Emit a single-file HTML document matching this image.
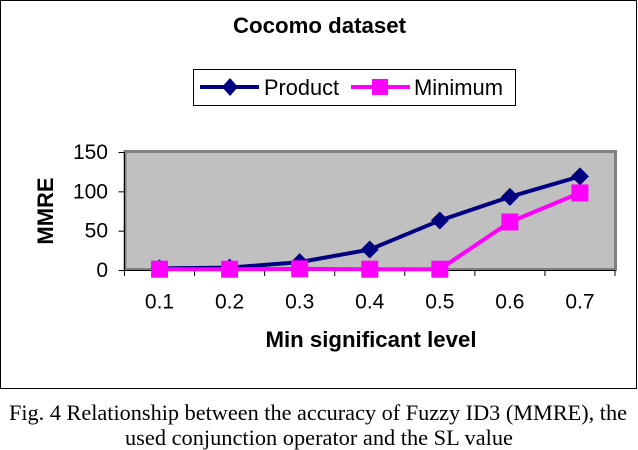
<!DOCTYPE html>
<html>
<head>
<meta charset="utf-8">
<style>
html,body{margin:0;padding:0;background:#fff;}
body{width:638px;height:450px;overflow:hidden;}
svg{display:block;}
text{font-family:"Liberation Sans",sans-serif;fill:#000;}
.cap{font-family:"Liberation Serif",serif;font-size:22px;}
</style>
</head>
<body>
<svg id="chart" width="638" height="450" viewBox="0 0 638 450" xmlns="http://www.w3.org/2000/svg">
  <rect x="0.5" y="0.5" width="636" height="388" fill="#fff" stroke="#000" stroke-width="1"/>
  <text x="233" y="33" font-size="22" font-weight="bold" textLength="173" lengthAdjust="spacingAndGlyphs">Cocomo dataset</text>

  <g>
    <rect x="193.5" y="69.5" width="322" height="36" fill="#fff" stroke="#000" stroke-width="1"/>
    <g>
      <line x1="200" y1="87" x2="259" y2="87" stroke="#000080" stroke-width="4"/>
      <polygon points="230,78 238,87 230,96 222,87" fill="#000080"/>
      <text x="264" y="95" font-size="22" textLength="75" lengthAdjust="spacingAndGlyphs">Product</text>
    </g>
    <g>
      <line x1="351" y1="87" x2="410" y2="87" stroke="#ff00ff" stroke-width="4"/>
      <rect x="372" y="79" width="16" height="16" fill="#ff00ff"/>
      <text x="414" y="95" font-size="22" textLength="89" lengthAdjust="spacingAndGlyphs">Minimum</text>
    </g>
  </g>

  <rect x="125" y="151.5" width="490.5" height="118" fill="#c0c0c0" stroke="#808080" stroke-width="3"/>
  <g id="axes"></g>
  <g id="series"></g>

  <text x="0" y="0" transform="translate(53,211) rotate(-90)" font-size="22" font-weight="bold" text-anchor="middle">MMRE</text>
  <text x="265.5" y="347" font-size="22" font-weight="bold" textLength="211" lengthAdjust="spacingAndGlyphs">Min significant level</text>

  <text class="cap" x="9" y="420" textLength="618" lengthAdjust="spacingAndGlyphs">Fig. 4 Relationship between the accuracy of Fuzzy ID3 (MMRE), the</text>
  <text class="cap" x="125" y="445" textLength="388" lengthAdjust="spacingAndGlyphs">used conjunction operator and the SL value</text>
</svg>
<script>
const categories = ["0.1", "0.2", "0.3", "0.4", "0.5", "0.6", "0.7"];
const productValues = [2, 3, 10, 26, 63, 93, 119];
const minimumValues = [1, 1, 1.5, 1, 1, 61, 98];
const yTicks = [0, 50, 100, 150];

const NS = "http://www.w3.org/2000/svg";
const plotLeft = 124.5, plotRight = 615, plotTop = 152, plotBottom = 270;
const yMax = 150;
const bandWidth = (plotRight - plotLeft) / categories.length;
function xAt(i) { return plotLeft + bandWidth * (i + 0.5); }
function xEdge(i) { return plotLeft + bandWidth * i; }
function yAt(v) { return plotBottom - (v / yMax) * (plotBottom - plotTop); }
function make(tag, attrs, parent) {
  const el = document.createElementNS(NS, tag);
  for (const k in attrs) el.setAttribute(k, attrs[k]);
  parent.appendChild(el);
  return el;
}
const axes = document.getElementById("axes");
const series = document.getElementById("series");

const yAxisLine = make("line", {x1: plotLeft, y1: plotTop, x2: plotLeft, y2: plotBottom + 1, stroke: "#000"}, axes);


const xAxisLine = make("line", {x1: plotLeft - 6, y1: plotBottom + 0.5, x2: plotRight, y2: plotBottom + 0.5, stroke: "#000"}, axes);



yTicks.forEach(function (t) {
  const y = yAt(t);
  const tick = make("line", {x1: plotLeft - 6, y1: y + 0.5, x2: plotLeft, y2: y + 0.5, stroke: "#000"}, axes);
  
  
  const label = make("text", {x: 108, y: y + 7, "font-size": 21, "text-anchor": "end"}, axes);
  
  
  label.textContent = t;
});

for (let i = 0; i <= categories.length; i++) {
  const tick = make("line", {x1: xEdge(i), y1: plotBottom, x2: xEdge(i), y2: plotBottom + 6, stroke: "#000"}, axes);
  
  
}
categories.forEach(function (c, i) {
  const label = make("text", {x: xAt(i), y: 308.5, "font-size": 21, "text-anchor": "middle"}, axes);
  
  
  label.textContent = c;
});

const productLine = make("polyline", {
  points: productValues.map(function (v, i) { return xAt(i) + "," + yAt(v); }).join(" "),
  fill: "none", stroke: "#000080", "stroke-width": 4
}, series);


productValues.forEach(function (v, i) {
  const x = xAt(i), y = yAt(v), r = 9;
  const m = make("polygon", {
    points: x + "," + (y - r) + " " + (x + r) + "," + y + " " + x + "," + (y + r) + " " + (x - r) + "," + y,
    fill: "#000080"
  }, series);
  
  
});

const minimumLine = make("polyline", {
  points: minimumValues.map(function (v, i) { return xAt(i) + "," + yAt(v); }).join(" "),
  fill: "none", stroke: "#ff00ff", "stroke-width": 4
}, series);


minimumValues.forEach(function (v, i) {
  const x = xAt(i), y = yAt(v), s = 17;
  const m = make("rect", {x: x - s / 2, y: y - s / 2, width: s, height: s, fill: "#ff00ff"}, series);
  
  
});
</script>
</body>
</html>
